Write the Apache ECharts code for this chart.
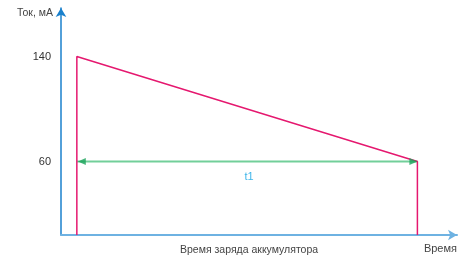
<!DOCTYPE html>
<html>
<head>
<meta charset="utf-8">
<script src="https://cdn.jsdelivr.net/npm/echarts@6/dist/echarts.min.js"></script>
<style>
  html, body { margin: 0; padding: 0; background: #fff; }
  #chart { width: 470px; height: 257px; }
</style>
</head>
<body>
<div id="chart"></div>
<script>
// data
var yTicks = [60, 140];
var tStart = 4, tEnd = 90;          // charge start / end on time axis
var currentStart = 140, currentEnd = 60;
var yFloor = 4;                     // where x axis sits
var chargeCurve = [
    [tStart, yFloor],
    [tStart, currentStart],
    [tEnd, currentEnd],
    [tEnd, yFloor]
];
var spanLine = [[tStart, currentEnd], [tEnd, currentEnd]];

var myChart = echarts.init(document.getElementById('chart'));

var option = {
    animation: false,
    textStyle: { fontFamily: '"Liberation Sans", Arial, sans-serif' },
    title: {
        text: 'Время заряда аккумулятора',
        left: 175,
        top: 240,
        textStyle: { fontSize: 10.5, fontWeight: 'normal', color: '#444', fontFamily: '"Liberation Sans", Arial, sans-serif' }
    },
    grid: { left: 61, right: 13, top: 8, bottom: 22 },
    xAxis: {
        type: 'value',
        min: 0,
        max: 100,
        name: 'Время',
        nameLocation: 'end',
        nameGap: 0,
        nameTextStyle: { fontSize: 11, color: '#444', align: 'right', verticalAlign: 'top', padding: [8, 0, 0, 0] },
        axisLine: {
            onZero: false,
            symbol: ['none', 'arrow'],
            symbolSize: [8, 9],
            lineStyle: { color: '#6eb2e2', width: 2 }
        },
        axisTick: { show: false },
        axisLabel: { show: false },
        splitLine: { show: false }
    },
    yAxis: {
        type: 'value',
        min: yFloor,
        max: 177,
        name: 'Ток, мА',
        nameLocation: 'end',
        nameGap: 0,
        nameTextStyle: { fontSize: 10.5, color: '#444', align: 'right', verticalAlign: 'top', padding: [0, 8, 0, 0] },
        axisLine: {
            show: true,
            symbol: ['none', 'arrow'],
            symbolSize: [8, 9],
            lineStyle: { color: '#1a80cc', width: 1.5 }
        },
        axisTick: { show: false },
        axisLabel: {
            customValues: yTicks,
            fontSize: 11,
            color: '#333',
            margin: 10
        },
        splitLine: { show: false }
    },
    series: [
        {
            type: 'line',
            data: chargeCurve,
            symbol: 'none',
            lineStyle: { color: '#e5186f', width: 1.5 },
            z: 3
        },
        {
            type: 'line',
            data: spanLine,
            symbol: 'none',
            lineStyle: { color: '#72cf9a', width: 2 },
            markPoint: {
                symbol: 'rect',
                symbolSize: 0,
                label: { show: true, formatter: 't1', color: '#3fb6ea', fontSize: 11, offset: [0, 15] },
                data: [{ coord: [(tStart + tEnd) / 2 + 0.5, currentEnd] }]
            },
            z: 2
        },
        {
            type: 'scatter',
            symbol: 'triangle',
            symbolSize: [7, 8],
            itemStyle: { color: '#1aa35a' },
            data: [
                { value: [tStart, currentEnd], symbolRotate: 90, symbolOffset: [5, 0] },
                { value: [tEnd, currentEnd], symbolRotate: -90, symbolOffset: [-4, 0] }
            ],
            z: 4
        }
    ]
};

myChart.setOption(option);
</script>
</body>
</html>
